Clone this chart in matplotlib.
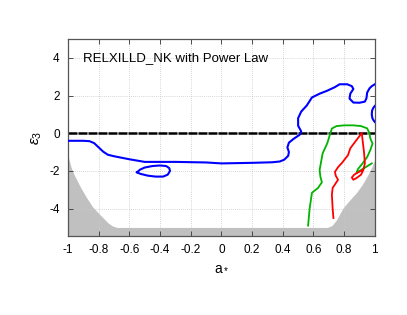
import matplotlib
matplotlib.use("Agg")
import matplotlib.pyplot as plt
import numpy as np

plt.rcParams['font.family'] = ['Liberation Sans', 'DejaVu Sans']
plt.rcParams['axes.unicode_minus'] = False
plt.rcParams['mathtext.fontset'] = 'custom'
plt.rcParams['mathtext.rm'] = 'Liberation Sans'
plt.rcParams['mathtext.it'] = 'Liberation Sans:italic'

# contours: (a*, eps3)
blue_main_a = [-1.0, -0.9, -0.86, -0.83, -0.8, -0.77, -0.74, -0.7, -0.6, -0.5, -0.3, -0.1, 0.0, 0.2,
               0.33, 0.38, 0.41, 0.435, 0.44, 0.43, 0.44, 0.47, 0.51, 0.52, 0.5, 0.5, 0.52, 0.556,
               0.59, 0.64, 0.69, 0.74, 0.77, 0.82, 0.85, 0.86, 0.84, 0.835, 0.86, 0.9, 0.935,
               0.945, 0.95, 0.965, 0.98, 1.0]
blue_main_e = [-0.4, -0.4, -0.42, -0.52, -0.75, -0.98, -1.14, -1.22, -1.38, -1.52, -1.52, -1.55, -1.6, -1.57,
               -1.54, -1.5, -1.4, -1.2, -1.0, -0.75, -0.5, -0.3, -0.08, 0.1, 0.4, 0.8, 1.15, 1.47,
               1.9, 2.1, 2.26, 2.45, 2.6, 2.6, 2.5, 2.35, 2.1, 1.84, 1.63, 1.62, 1.68,
               1.85, 2.16, 2.38, 2.5, 2.6]
blue_edge_a = [1.0, 0.99, 0.982, 0.98, 0.984, 0.992, 1.0]
blue_edge_e = [1.45, 1.35, 1.2, 1.0, 0.8, 0.68, 0.6]
blue_loop_a = [-0.55, -0.53, -0.5, -0.45, -0.4, -0.36, -0.34, -0.335, -0.35, -0.38, -0.43, -0.48, -0.53, -0.55]
blue_loop_e = [-2.07, -1.93, -1.82, -1.74, -1.71, -1.74, -1.85, -2.0, -2.2, -2.3, -2.3, -2.25, -2.15, -2.07]

green_a = [0.565, 0.575, 0.59, 0.63, 0.655, 0.645, 0.64, 0.65, 0.66, 0.69, 0.71, 0.72, 0.75, 0.8,
           0.86, 0.91, 0.95, 0.965, 0.97, 0.985, 0.97, 0.95, 0.92, 0.89, 0.88, 0.9, 0.93, 0.96, 0.98]
green_e = [-4.9, -4.0, -3.16, -2.9, -2.6, -2.3, -1.95, -1.5, -1.06, -0.53, 0.0, 0.25, 0.38, 0.42,
           0.42, 0.38, 0.26, 0.0, -0.26, -0.55, -0.9, -1.26, -1.6, -1.9, -2.1, -2.0, -1.85, -1.7, -1.6]
red_a = [0.73, 0.725, 0.72, 0.725, 0.76, 0.745, 0.74, 0.76, 0.785, 0.825, 0.84, 0.87, 0.9, 0.915,
         0.92, 0.925, 0.93, 0.935, 0.925, 0.91, 0.88, 0.86, 0.85, 0.865, 0.89, 0.92]
red_e = [-4.5, -4.0, -3.26, -2.9, -2.47, -2.25, -2.05, -1.8, -1.58, -1.16, -0.8, -0.47, -0.15, 0.02,
         -0.37, -0.7, -1.06, -1.6, -1.95, -2.2, -2.38, -2.47, -2.35, -2.2, -2.08, -1.95]

# excluded region (upper boundary)
gray_a = [-1.0, -0.995, -0.98, -0.96, -0.92, -0.88, -0.84, -0.8, -0.77, -0.74, -0.71, -0.68, 0.69, 0.72,
          0.75, 0.77, 0.79, 0.82, 0.85, 0.88, 0.92, 0.955, 0.98, 1.0]
gray_e = [-1.0, -1.35, -1.8, -2.2, -2.84, -3.4, -3.9, -4.25, -4.5, -4.75, -4.92, -5.0, -5.0, -4.9,
          -4.6, -4.3, -4.0, -3.7, -3.42, -3.16, -2.7, -2.2, -1.8, -1.4]

xticks = [-1, -0.8, -0.6, -0.4, -0.2, 0, 0.2, 0.4, 0.6, 0.8, 1]
xlabels = ['-1', '-0.8', '-0.6', '-0.4', '-0.2', '0', '0.2', '0.4', '0.6', '0.8', '1']
yticks = [-4, -2, 0, 2, 4]

fig = plt.figure(figsize=(4.07, 3.15), dpi=100)
ax = fig.add_axes([0.167, 0.251, 0.754, 0.625])

ax.fill_between(gray_a, gray_e, -6, color='#c0c0c0', lw=0, zorder=1)
ax.plot(blue_main_a, blue_main_e, color='#0000ff', lw=1.5, zorder=3)
ax.plot(blue_edge_a, blue_edge_e, color='#0000ff', lw=1.5, zorder=3)
ax.plot(blue_loop_a, blue_loop_e, color='#0000ff', lw=1.5, zorder=3)
ax.plot(green_a, green_e, color='#00b400', lw=1.3, zorder=3)
ax.plot(red_a, red_e, color='#ff0000', lw=1.3, zorder=3)
ax.axhline(0, color='black', lw=1.8, linestyle=(0, (3.6, 0.4)), zorder=2)

ax.set_xlim(-1, 1)
ax.set_ylim(-5.45, 5)
ax.set_xticks(xticks)
ax.set_xticklabels(xlabels)
ax.set_yticks(yticks)
ax.grid(True, color='#c8c8c8', linestyle=(0, (1, 1.5)), lw=0.6)
ax.tick_params(direction='in', top=True, right=True, length=3.5, width=0.6,
               labelsize=8.5, colors='#333333', labelcolor='black', pad=6)
for s in ax.spines.values():
    s.set_color('#555555')
    s.set_linewidth(0.9)

ax.text(-0.9, 4, 'RELXILLD_NK with Power Law', fontsize=9.5, va='center', ha='left')
ax.set_xlabel(r'a$_*$', fontsize=10, labelpad=3)
ax.set_ylabel(r'$\varepsilon_3$', fontsize=11, labelpad=4)

fig.savefig('out.png', dpi=100)
